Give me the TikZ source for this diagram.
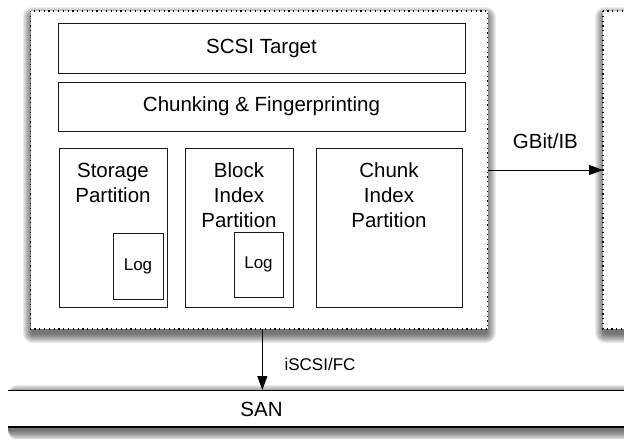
\documentclass[tikz,border=0pt]{standalone}
\usepackage{fontspec}
\setmainfont{Liberation Sans}
\usetikzlibrary{arrows.meta}
\begin{document}
\begin{tikzpicture}[x=1pt,y=-1pt,
  box/.style={draw=black!90,line width=1pt,fill=white,inner sep=0pt,outer sep=0pt},
  host/.style={draw=black,line width=1.2pt,dash pattern=on 1.2pt off 3.6pt,fill=white,inner sep=0pt,outer sep=0pt},
  shadowlayer/.style={fill=black,opacity=0.075},
  txt/.style={font=\fontsize{20.5}{25}\selectfont,align=center,inner sep=0pt},
  small/.style={font=\fontsize{17}{20}\selectfont,inner sep=0pt},
  arr/.style={line width=1pt,-{Triangle[length=14pt,width=10pt]}}
]
\useasboundingbox (0,0) rectangle (624,439);
\clip (0,0) rectangle (624,439);

% geometry nodes (invisible) for shadows
\path (8,390) node[anchor=north west,minimum width=660pt,minimum height=37pt,inner sep=0pt,outer sep=0pt] (san) {};
\path (259.35,170) node[minimum width=457pt,minimum height=318pt,inner sep=0pt,outer sep=0pt] (server) {};
\path (603,11) node[anchor=north west,minimum width=160pt,minimum height=318pt,inner sep=0pt,outer sep=0pt] (remote) {};

% soft shadows
\foreach \r in {1,...,10}{
  \fill[shadowlayer,rounded corners=\r pt] ([shift={(0,5-\r)}]san.north west) rectangle ([shift={(0,3+\r)}]san.south east);
  \fill[shadowlayer,rounded corners=\r pt] ([shift={(2-\r,6-\r)}]server.north west) rectangle ([shift={(\r-2,4+\r)}]server.south east);
  \fill[shadowlayer,rounded corners=\r pt] ([shift={(2-\r,6-\r)}]remote.north west) rectangle ([shift={(\r-2,4+\r)}]remote.south east);
}

% SAN bus
\fill[white] (san.north west) rectangle (san.south east);
\draw[line width=1pt] (san.north west) -- (san.north east);
\draw[line width=1.8pt] (san.south west) -- (san.south east);
\node[txt] (santxt) at (261.5,409) {SAN};

% hosts
\draw[host] (server.north west) rectangle (server.south east);
\draw[host] (remote.north west) rectangle (remote.south east);

% inner layers
\node[box,txt,anchor=north west,minimum width=407pt,minimum height=50pt] (scsi) at (58,23) {SCSI Target};
\node[box,txt,anchor=north west,minimum width=407pt,minimum height=49pt] (chunking) at (58,82) {Chunking \& Fingerprinting};

\node[box,anchor=north west,minimum width=108pt,minimum height=159pt] (storage) at (59,148) {};
\node[box,anchor=north west,minimum width=108pt,minimum height=159pt] (block) at (185,148) {};
\node[box,anchor=north west,minimum width=146pt,minimum height=159pt] (chunk) at (316,148) {};

\node[txt,anchor=north] (storagetxt) at ([yshift=-14.5pt]storage.north) {Storage\\Partition};
\node[txt,anchor=north] (blocktxt) at ([yshift=-14.5pt]block.north) {Block\\Index\\Partition};
\node[txt,anchor=north] (chunktxt) at ([yshift=-14.5pt]chunk.north) {Chunk\\Index\\Partition};

\node[box,small,anchor=north west,minimum width=50pt,minimum height=66pt] (log1) at (113,233) {Log};
\node[box,small,anchor=north west,minimum width=49pt,minimum height=65pt] (log2) at (234,232) {Log};

% connectors
\draw[arr] (server.east) -- (remote.west) node[midway,above=21pt,txt] (gbit) {GBit/IB};
\node[small,fill=white,inner xsep=8pt,inner ysep=12pt] (iscsi) at (320,364) {iSCSI/FC};
\draw[arr] ([xshift=3pt]server.south) -- ([xshift=3pt]server.south |- san.north);
\end{tikzpicture}
\end{document}
